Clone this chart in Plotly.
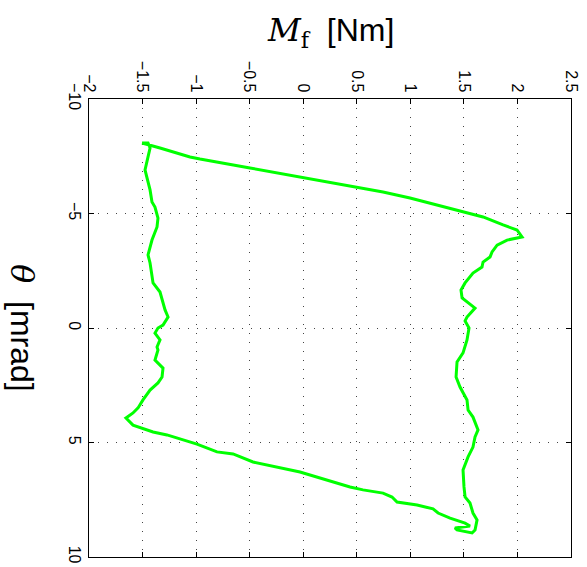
import plotly.graph_objects as go

# Friction moment M_f [Nm] and angle theta [mrad] (hysteresis loop)
moment = [-1.505, -1.430, -1.337, -1.057, -0.964, -0.497, -0.030, 0.437, 0.530, 0.745,
          0.997, 1.212, 1.492, 1.679, 1.866, 1.996, 2.043,
          1.903, 1.810, 1.763, 1.744, 1.679, 1.669, 1.585, 1.511, 1.473, 1.483, 1.539,
          1.604, 1.529, 1.511, 1.548, 1.529, 1.492, 1.436, 1.427, 1.464, 1.529, 1.539,
          1.585, 1.632, 1.604, 1.585, 1.539, 1.492, 1.501, 1.511, 1.557, 1.585, 1.623,
          1.604, 1.576, 1.529, 1.436, 1.417, 1.557, 1.511, 1.371, 1.259, 1.212, 1.063,
          0.876, 0.829, 0.745, 0.558, 0.437, -0.030, -0.245, -0.469, -0.655, -0.805,
          -0.992, -1.150, -1.272, -1.402, -1.589, -1.655,
          -1.589, -1.542, -1.496, -1.430, -1.356, -1.318, -1.309, -1.384, -1.356, -1.365,
          -1.337, -1.384, -1.356, -1.309, -1.262, -1.290, -1.318, -1.337, -1.402, -1.430,
          -1.449, -1.412, -1.365, -1.356, -1.384, -1.412, -1.430, -1.458, -1.477, -1.449,
          -1.430, -1.449, -1.505]
theta = [-8.08, -7.99, -7.86, -7.47, -7.38, -6.99, -6.59, -6.20, -6.11, -5.94,
         -5.68, -5.41, -5.07, -4.85, -4.50, -4.28, -3.97,
         -3.84, -3.62, -3.32, -3.10, -2.88, -2.66, -2.40, -1.97, -1.66, -1.31, -1.09,
         -0.87, -0.48, -0.31, 0.00, 0.52, 1.09, 1.48, 2.14, 2.58, 3.14, 3.58,
         3.89, 4.45, 4.76, 5.20, 5.63, 6.20, 6.94, 7.38, 7.64, 8.08, 8.38,
         8.82, 8.95, 8.91, 8.82, 8.73, 8.65, 8.52, 8.30, 8.08, 7.90, 7.73,
         7.60, 7.38, 7.21, 7.07, 6.94, 6.29, 6.07, 5.85, 5.50, 5.41,
         5.07, 4.85, 4.67, 4.54, 4.24, 3.93,
         3.71, 3.49, 3.14, 2.71, 2.40, 2.14, 1.75, 1.40, 0.96, 0.83,
         0.52, 0.22, 0.00, -0.13, -0.48, -0.79, -1.22, -1.57, -1.97, -2.84,
         -3.19, -3.84, -4.41, -4.80, -5.28, -5.50, -6.03, -6.59, -6.90, -7.47,
         -7.86, -8.08, -8.08]

x_ticks = [-2, -1.5, -1, -0.5, 0, 0.5, 1, 1.5, 2, 2.5]
x_labels = ["−2", "−1.5", "−1", "−0.5", "0", "0.5", "1", "1.5", "2", "2.5"]
y_ticks = [-10, -5, 0, 5, 10]
y_labels = ["−10", "−5", "0", "5", "10"]

fig = go.Figure()
fig.add_trace(go.Scatter(x=moment, y=theta, mode="lines",
                         line=dict(color="#00ff00", width=3), showlegend=False))

axis_common = dict(showline=True, linecolor="black", linewidth=1, mirror="ticks",
                   ticks="inside", ticklen=5, tickcolor="black",
                   showgrid=True, gridcolor="#444444", griddash="1px,8px", gridwidth=1,
                   zeroline=False, tickangle=90, automargin=False,
                   tickfont=dict(family="Liberation Sans, Arial", size=16, color="black"))

fig.update_layout(
    width=587, height=567,
    margin=dict(l=89, r=16, t=99, b=10),
    plot_bgcolor="white", paper_bgcolor="white",
    xaxis=dict(range=[-2, 2.5], side="top", tickvals=x_ticks, ticktext=x_labels,
               **axis_common),
    yaxis=dict(range=[10, -10], tickvals=y_ticks, ticktext=y_labels, **axis_common),
    annotations=[
        dict(xref="paper", yref="paper", x=0.5, y=1.146, showarrow=False,
             text="<span style='font-family:\"DejaVu Serif\", serif'><i>M</i><sub>f</sub></span>  [Nm]",
             font=dict(family="Liberation Sans, Arial", size=32, color="black"),
             xanchor="center", yanchor="middle"),
        dict(xref="paper", yref="paper", x=-0.139, y=0.5, showarrow=False,
             text="<span style='font-family:\"DejaVu Serif\", serif'><i>θ</i></span>  [mrad]",
             font=dict(family="Liberation Sans, Arial", size=32, color="black"),
             textangle=90, xanchor="center", yanchor="middle"),
    ],
)

fig.write_html("out.html", config={"displayModeBar": False},
               post_script="document.body.style.margin='0';")
